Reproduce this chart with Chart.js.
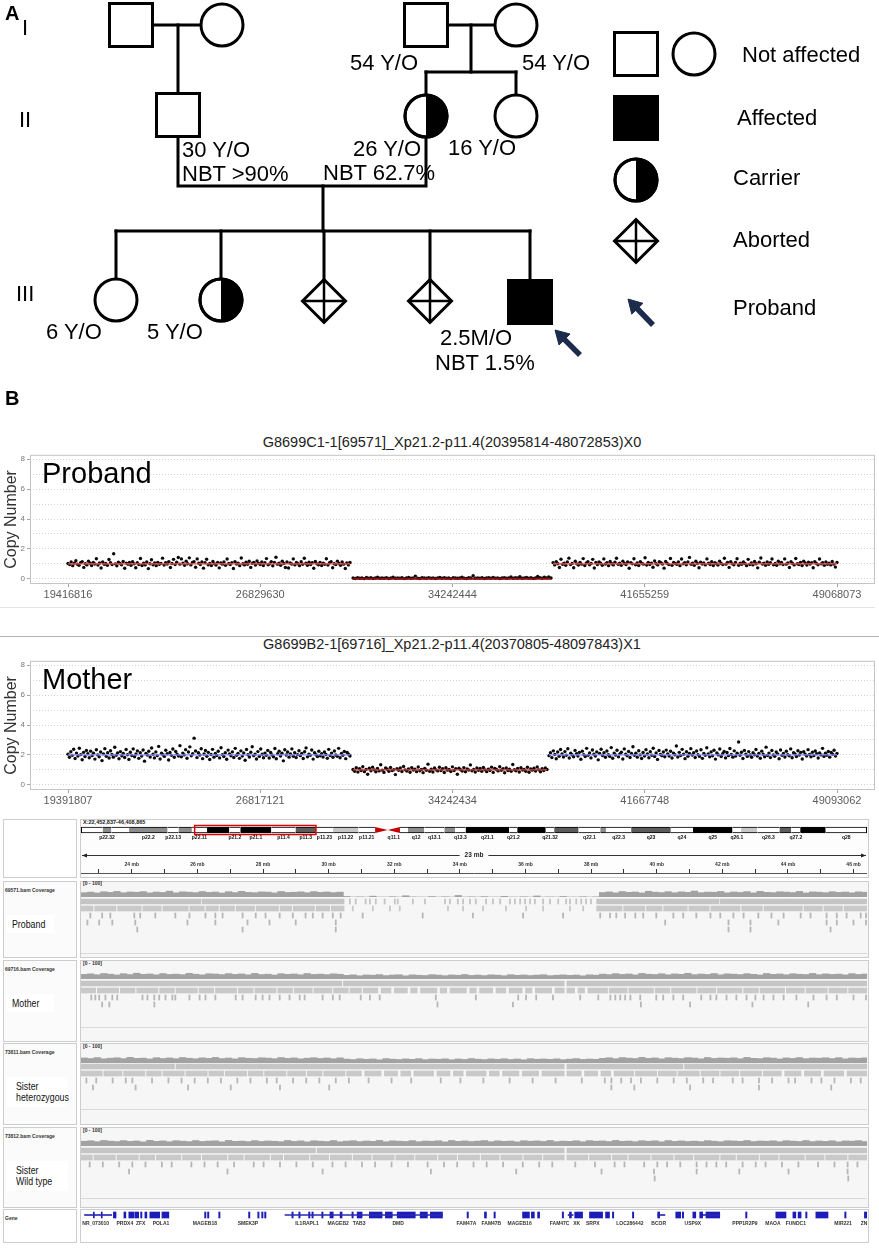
<!DOCTYPE html>
<html>
<head>
<meta charset="utf-8">
<script src="https://cdn.jsdelivr.net/npm/chart.js@4.4.1/dist/chart.umd.min.js"></script>
<style>
  html, body { margin: 0; padding: 0; background: #fff; }
  #page { position: relative; width: 879px; height: 1255px; overflow: hidden;
          font-family: "Liberation Sans", Arial, Helvetica, sans-serif; color: #000; }
  .t { position: absolute; white-space: nowrap; line-height: 1; }
  .box { position: absolute; box-sizing: border-box; border: 1px solid #cdcdcd; }
  canvas { position: absolute; }
</style>
</head>
<body>
<div id="page"></div>
<script>
/* ---------- Panel A: pedigree ---------- */
const generationLabels = ['I', 'II', 'III'];
const generationLabelY = [28, 120, 294];

// members in drawing units (same as the panel's pixel grid)
const pedMembers = [
  { id: 'I-1',   x: 131, y: 25,  sex: 'M', status: 'normal' },
  { id: 'I-2',   x: 222, y: 25,  sex: 'F', status: 'normal' },
  { id: 'I-3',   x: 426, y: 25,  sex: 'M', status: 'normal' },
  { id: 'I-4',   x: 516, y: 25,  sex: 'F', status: 'normal' },
  { id: 'II-1',  x: 178, y: 115, sex: 'M', status: 'normal' },
  { id: 'II-2',  x: 426, y: 116, sex: 'F', status: 'carrier' },
  { id: 'II-3',  x: 516, y: 116, sex: 'F', status: 'normal' },
  { id: 'III-1', x: 116, y: 300, sex: 'F', status: 'normal' },
  { id: 'III-2', x: 221, y: 300, sex: 'F', status: 'carrier' },
  { id: 'III-3', x: 324, y: 301, sex: 'U', status: 'aborted' },
  { id: 'III-4', x: 430, y: 301, sex: 'U', status: 'aborted' },
  { id: 'III-5', x: 530, y: 302, sex: 'M', status: 'affected' }
];
const pedFamilies = [
  { parents: ['I-1', 'I-2'], children: ['II-1'], barY: 115 },
  { parents: ['I-3', 'I-4'], children: ['II-2', 'II-3'], barY: 72 },
  { parents: ['II-1', 'II-2'], children: ['III-1', 'III-2', 'III-3', 'III-4', 'III-5'], coupleY: 186, barY: 231 }
];
const pedNotes = ['54 Y/O', '54 Y/O', '30 Y/O', 'NBT >90%', '26 Y/O', 'NBT 62.7%', '16 Y/O', '6 Y/O', '5 Y/O', '2.5M/O', 'NBT 1.5%'];
const pedNoteX = [350, 522, 182, 182, 353, 323, 448, 46, 147, 440, 435];
const pedNoteY = [63, 63, 150, 174, 149, 173, 148, 332, 332, 338, 363];

const legendSymbols = [
  { x: 636, y: 54,  sex: 'M', status: 'normal' },
  { x: 694, y: 54,  sex: 'F', status: 'normal' },
  { x: 636, y: 118, sex: 'M', status: 'affected' },
  { x: 636, y: 180, sex: 'F', status: 'carrier' },
  { x: 636, y: 241, sex: 'U', status: 'aborted' }
];
const legendLabels = ['Not affected', 'Affected', 'Carrier', 'Aborted', 'Proband'];
const legendLabelX = [742, 737, 733, 733, 733];
const legendLabelY = [55, 118, 178, 240, 308];
const probandArrows = [
  { tail: [580, 355], head: [555, 330] },
  { tail: [653, 325], head: [628, 299] }
];

/* ---------- Panel B: copy number plots ---------- */
const probandTitle = 'G8699C1-1[69571]_Xp21.2-p11.4(20395814-48072853)X0';
const probandTicks = [19416816, 26829630, 34242444, 41655259, 49068073];
const probandSegStart = [19416816, 30410000, 38120000];
const probandSegEnd = [30290000, 38040000, 49068073];
const probandSegCN = [1, 0, 1];
const probandLeft = [
  1.02,0.95,1.12,0.88,1.05,1.21,0.97,0.91,1.08,1.15,0.76,1.01,0.93,1.18,1.04,0.89,1.10,0.99,1.34,0.92,
  1.06,0.72,1.13,0.97,1.02,0.90,1.29,1.07,0.95,1.68,1.00,0.87,1.11,1.03,0.94,1.16,0.70,1.05,0.98,1.09,
  0.91,1.14,1.00,0.74,1.07,0.96,1.36,0.89,1.04,0.93,1.12,0.68,1.01,1.27,0.94,1.06,0.88,1.10,0.97,1.03,
  1.38,0.92,1.08,0.99,1.15,0.75,1.02,1.30,0.95,1.11,1.42,0.98,1.33,1.05,0.90,1.18,1.01,1.40,0.93,1.09,
  1.14,0.77,1.33,1.04,0.96,1.12,0.71,1.07,1.31,0.94,1.03,0.89,1.16,1.00,0.92,1.10,0.73,1.06,0.98,1.13,
  0.90,1.32,1.02,0.95,1.08,0.69,1.15,0.99,1.05,0.88,1.39,1.01,0.93,1.11,0.97,1.17,0.76,1.04,1.09,0.92,
  1.19,1.03,0.96,1.13,0.89,1.07,1.35,0.94,1.00,1.15,0.87,1.10,1.44,0.98,1.05,0.91,1.18,1.02,0.75,1.12,
  0.72,1.06,0.99,1.33,0.93,1.09,1.01,0.88,1.14,0.97,1.37,1.04,0.90,1.11,0.96,1.08,0.70,1.16,1.00,0.94,
  1.10,0.89,1.05,0.97,1.34,0.92,1.07,1.14,0.74,1.01,0.95,1.18,1.03,0.90,1.12,0.98,0.69,1.06,0.93,1.09
];
const probandDel = [
  0.05,0.02,0.08,0.03,0.06,0.01,0.09,0.04,0.07,0.02,0.05,0.10,0.03,0.06,0.04,0.08,0.02,0.05,0.11,0.03,
  0.06,0.04,0.07,0.01,0.05,0.09,0.03,0.06,0.18,0.04,0.02,0.07,0.05,0.03,0.08,0.04,0.06,0.02,0.05,0.09,
  0.03,0.07,0.04,0.06,0.01,0.08,0.05,0.03,0.06,0.10,0.04,0.02,0.07,0.05,0.20,0.03,0.06,0.04,0.08,0.02,
  0.05,0.07,0.03,0.09,0.04,0.06,0.02,0.05,0.08,0.03,0.06,0.12,0.04,0.07,0.05,0.14,0.03,0.06,0.09,0.04,
  0.07,0.02,0.05,0.16,0.08,0.04,0.10,0.06,0.12,0.05
];
const probandRight = [
  1.08,0.93,1.15,1.01,0.75,1.31,0.97,1.05,0.90,1.12,1.38,0.95,1.03,0.74,1.17,1.00,0.92,1.10,0.98,1.35,
  0.89,1.06,1.14,0.94,1.02,1.30,0.72,1.09,0.96,1.13,1.04,0.91,1.33,0.99,1.07,0.88,1.16,1.01,0.93,1.11,
  1.37,0.97,1.04,0.90,1.18,1.02,0.95,1.12,0.70,1.08,1.00,1.34,0.94,1.06,0.89,1.15,1.03,0.98,1.41,0.92,
  1.10,0.96,1.05,0.77,1.19,1.01,0.93,1.14,1.07,0.99,0.71,1.16,1.02,0.95,1.36,0.91,1.09,1.03,0.97,1.12,
  0.88,1.32,1.00,1.08,0.94,1.13,1.43,0.97,1.05,0.90,1.17,1.02,0.74,1.11,0.99,1.06,0.93,1.33,1.04,0.96,
  1.14,0.89,1.07,1.01,0.92,1.18,1.03,0.95,1.37,0.98,1.10,0.76,1.15,1.00,0.94,1.09,1.34,0.91,1.05,0.97,
  1.12,1.02,0.88,1.30,0.96,1.06,0.93,1.16,1.01,0.73,1.11,1.39,0.99,1.04,0.90,1.13,0.97,1.08,1.32,0.94,
  1.03,0.91,1.17,1.00,1.09,0.95,1.33,0.98,1.06,0.75,1.14,1.02,0.93,1.36,1.01,0.96,1.10,0.89,1.18,1.04,
  0.92,1.11,0.99,1.07,0.74,1.15,1.03,0.94,1.32,1.00,1.08,0.90,1.13,0.97,1.05,0.93,1.16,0.98,0.78,1.09
];

const motherTitle = 'G8699B2-1[69716]_Xp21.2-p11.4(20370805-48097843)X1';
const motherTicks = [19391807, 26817121, 34242434, 41667748, 49093062];
const motherSegStart = [19391807, 30400000, 37970000];
const motherSegEnd = [30283000, 37892000, 49093062];
const motherSegCN = [2, 1, 2];
const motherLeft = [
  2.05,1.84,2.21,1.97,2.38,1.76,2.12,1.93,2.45,2.02,1.68,2.17,1.89,2.30,2.08,1.81,2.25,1.95,2.11,1.72,
  2.34,2.00,1.87,2.19,1.62,2.07,2.42,1.91,2.15,1.79,2.28,2.03,1.85,2.51,1.98,2.13,1.74,2.22,1.94,2.09,
  1.83,2.36,2.01,1.70,2.18,1.96,2.40,1.88,2.06,2.27,1.77,2.14,1.92,2.33,1.58,2.10,1.99,2.24,1.86,2.46,
  2.04,1.80,2.20,1.95,2.57,1.73,2.11,2.01,1.90,2.31,2.08,1.66,2.16,1.97,2.39,1.84,2.23,2.05,1.93,2.62,
  1.87,2.12,2.00,2.35,1.78,2.19,2.54,1.94,2.08,3.12,2.26,1.82,2.14,1.99,2.41,1.75,2.06,2.29,1.91,2.17,
  1.69,2.03,2.37,1.85,2.10,1.96,2.24,1.80,2.48,2.02,1.89,2.15,1.71,2.32,2.07,1.94,2.20,1.83,2.44,1.98,
  2.09,1.77,2.27,1.92,2.13,1.64,2.36,2.01,1.86,2.18,2.55,1.95,2.05,1.73,2.22,1.90,2.39,2.04,1.81,2.12,
  1.97,2.30,1.79,2.16,2.00,1.88,2.43,1.74,2.08,2.25,1.93,2.11,1.60,2.34,1.99,2.19,1.85,2.06,2.40,1.91,
  2.14,1.82,2.02,2.28,1.95,2.10,1.76,2.21,2.47,1.87,2.05,1.98,2.33,1.72,2.15,2.01,1.89,2.24,1.94,2.08,
  1.86,2.19,2.03,1.78,2.37,1.96,2.12,1.84,2.26,2.00,1.91,2.44,1.81,2.09,1.97,2.23,1.75,2.16,2.04,1.93
];
const motherDel = [
  1.02,0.91,1.14,0.85,1.07,0.96,1.21,0.88,1.03,0.70,1.11,0.94,1.18,1.00,0.87,1.09,0.93,1.34,0.98,0.83,
  1.12,1.04,0.90,1.16,0.95,1.01,0.68,1.08,0.97,1.13,0.89,1.22,1.00,0.92,1.06,0.84,1.15,0.99,1.05,0.88,
  1.19,0.94,1.03,0.81,1.10,0.97,1.38,0.90,1.04,0.86,1.12,1.00,0.93,1.17,0.95,1.07,0.82,1.14,0.98,1.02,
  0.89,1.20,0.96,1.08,0.70,1.11,1.01,0.92,1.15,0.87,1.06,0.99,1.33,0.94,1.03,0.85,1.13,0.97,1.09,0.91,
  1.16,1.00,0.88,1.05,0.95,1.18,0.83,1.10,1.02,0.93,1.21,0.97,1.07,0.80,1.12,0.96,1.04,0.90,1.36,1.01,
  0.94,1.09,0.86,1.14,0.99,1.03,0.91,1.17,0.84,1.06,0.98,1.11,0.92,1.19,1.00,0.87,1.08,0.95,1.13,1.02
];
const motherRight = [
  1.95,2.14,1.82,2.27,2.03,1.74,2.19,1.91,2.36,2.06,1.86,2.22,1.98,2.41,1.79,2.11,2.00,1.88,2.30,2.08,
  1.93,2.17,1.71,2.25,2.02,1.89,2.44,1.97,2.13,1.80,2.33,2.05,1.92,2.20,1.67,2.10,2.38,1.96,2.15,1.84,
  2.26,2.01,1.90,2.49,1.78,2.12,1.99,2.31,1.87,2.07,2.18,1.73,2.40,2.04,1.94,2.23,1.83,2.09,2.55,1.97,
  2.11,1.85,2.28,2.00,1.76,2.16,1.92,2.35,2.06,1.81,2.21,1.98,2.45,1.89,2.13,1.70,2.29,2.03,1.95,2.19,
  1.88,2.32,2.07,1.93,2.24,1.79,2.12,2.01,2.60,1.86,2.17,1.96,2.37,2.04,1.75,2.21,1.91,2.09,2.42,1.99,
  2.15,1.83,2.26,2.02,1.90,2.34,1.77,2.10,1.97,2.48,2.06,1.87,2.20,1.94,2.31,1.72,2.13,2.00,2.39,1.89,
  2.08,2.23,1.80,2.16,1.95,2.43,2.03,1.85,2.27,1.92,2.11,2.86,1.98,2.18,1.76,2.30,2.05,1.90,2.22,1.99,
  1.84,2.14,2.01,2.36,1.93,2.09,1.78,2.25,2.04,1.88,2.52,1.96,2.12,1.82,2.29,2.00,1.91,2.19,2.07,1.74,
  2.33,1.97,2.10,1.86,2.24,2.02,1.94,2.40,1.81,2.15,2.06,1.89,2.28,1.99,2.17,1.73,2.21,2.05,1.92,2.35,
  2.03,1.87,2.18,1.95,2.26,2.08,1.79,2.13,2.00,2.44,1.90,2.11,1.98,2.23,1.85,2.16,2.04,2.31,1.93,2.09
];
const cnTicks = [0, 1, 2, 3, 4, 5, 6, 7, 8];

/* ---------- IGV view ---------- */
const locusText = 'X:22,452,837-46,408,865';
const viewStart = 22.452837, viewEnd = 46.408865;   // Mb

const bandNames = ['p22.33','p22.32','p22.31','p22.2','p22.13','p22.12','p22.11','p21.3','p21.2','p21.1',
  'p11.4','p11.3','p11.23','p11.22','p11.21','p11.1','q11.1','q11.2','q12','q13.1','q13.2','q13.3',
  'q21.1','q21.2','q21.31','q21.32','q21.33','q22.1','q22.2','q22.3','q23','q24','q25','q26.1','q26.2',
  'q26.3','q27.1','q27.2','q27.3','q28'];
const bandStart = [0, 4.3, 6.0, 9.5, 17.1, 19.3, 21.9, 24.9, 29.3, 31.5, 37.6, 42.4, 46.4, 49.8, 54.8,
  58.1, 60.6, 63.0, 64.6, 67.8, 71.8, 73.9, 76.0, 84.6, 86.2, 91.8, 93.5, 98.3, 102.6, 103.7, 108.7,
  116.5, 120.9, 128.7, 130.4, 133.6, 138.0, 140.3, 142.1, 147.1];
const chromEnd = 155.27;
const bandStain = ['gneg','gpos50','gneg','gpos50','gneg','gpos50','gneg','gpos100','gneg','gpos100',
  'gneg','gpos75','gneg','gpos25','gneg','acen','acen','gneg','gpos50','gneg','gpos50','gneg',
  'gpos100','gneg','gpos100','gneg','gpos75','gneg','gpos50','gneg','gpos75','gneg','gpos100','gneg',
  'gpos25','gneg','gpos75','gneg','gpos100','gneg'];
const bandShown = ['p22.32','p22.2','p22.13','p22.11','p21.2','p21.1','p11.4','p11.3','p11.23','p11.22',
  'p11.21','q11.1','q12','q13.1','q13.3','q21.1','q21.2','q21.32','q22.1','q22.3','q23','q24','q25',
  'q26.1','q26.3','q27.2','q28'];
const rulerTicks = [23,24,25,26,27,28,29,30,31,32,33,34,35,36,37,38,39,40,41,42,43,44,45,46];

const covStart = 22.45, covBin = 0.2;   // coverage bins (Mb)
const probandCov = [
  62,70,58,75,66,80,61,72,68,77,59,71,65,83,60,74,69,63,78,66,71,57,76,64,81,67,62,73,70,59,79,65,68,74,61,77,66,72,63,70,
  8,0,3,0,12,0,0,5,0,18,2,0,0,7,0,4,0,22,0,3,0,6,0,0,10,1,0,4,0,15,0,2,0,8,0,0,5,0,3,
  64,73,60,78,67,71,58,82,69,63,76,61,74,66,85,62,70,68,79,60,72,65,77,59,81,67,63,75,70,64,80,58,73,69,62,76,66,71,60,74,68
];
const motherCov = [
  66,74,61,79,69,58,76,64,83,67,72,60,78,65,70,62,81,68,59,75,71,63,77,66,73,60,80,64,69,57,76,67,72,61,78,65,70,63,74,68,
  52,60,47,58,55,63,49,57,61,46,59,54,50,62,56,48,58,53,64,51,57,49,60,55,47,62,53,58,50,56,61,48,54,59,52,57,46,60,55,
  70,63,77,66,72,59,80,68,64,75,61,73,67,82,62,71,65,78,60,74,69,63,76,67,58,79,66,72,61,75,68,64,80,62,73,66,70,59,77,65,71
];
const hetCov = [
  72,64,78,60,69,75,63,81,67,70,58,76,65,73,62,79,68,61,74,66,80,63,71,59,77,68,64,75,70,62,78,66,73,60,69,76,65,72,61,74,
  56,49,61,53,58,46,63,55,50,59,52,62,48,57,54,60,47,58,51,64,55,49,59,53,61,50,57,46,62,54,58,52,60,48,56,63,51,57,53,
  67,75,62,78,70,64,81,66,73,59,76,69,63,77,71,60,79,65,72,68,74,61,80,67,63,76,70,58,73,66,78,62,71,69,75,64,77,60,72,68,74
];
const wtCov = [
  68,75,62,79,70,64,77,66,72,59,81,67,73,61,76,69,63,78,65,71,74,60,80,67,70,63,77,65,72,68,62,79,66,73,59,75,69,64,78,61,
  70,76,63,72,67,80,61,74,69,65,77,62,71,68,75,59,79,66,73,64,70,78,62,74,67,71,60,76,68,73,65,79,63,70,66,75,61,77,69,72,
  64,80,67,71,62,76,68,74,60,78,66,73,65,70,63,77,69,61,75,72,67,79,64,71,68,74,62,76,70,65,78,63,72,66,75,60,73,69,77,64
];

// read rows: solid bands [start, end] and single-read ticks (Mb)
const probandBand1 = [[22.45,26.10],[26.14,30.47],[38.17,41.90],[41.94,46.41]];
const probandBand2 = [[22.45,22.82],[22.87,23.52],[23.57,24.29],[24.34,24.90],[24.95,25.72],[25.77,26.21],
  [26.26,26.64],[26.69,27.13],[27.18,27.74],[27.79,28.47],[28.52,28.87],[28.92,29.57],[29.62,30.03],[30.08,30.47],
  [38.17,38.94],[38.99,39.64],[39.69,40.16],[40.21,40.93],[40.98,41.60],[41.65,42.54],[42.59,43.22],[43.27,44.44],
  [44.49,45.05],[45.10,45.66],[45.71,46.41]];
const probandTicks1 = [30.63,30.81,31.11,31.24,31.42,31.69,32.00,32.09,32.55,32.92,33.53,33.68,33.92,34.08,34.29,
  34.47,34.78,34.99,35.21,35.51,35.66,35.82,35.97,36.12,36.27,36.52,36.73,36.98,37.22,37.34,37.53,37.68,37.83,37.98];
const probandTicks2 = [30.72,31.33,31.85,32.15,33.62,34.08,34.69,35.39,36.00,36.52,37.34,37.74];
const probandTicks3 = [22.72,23.08,23.33,24.06,24.24,24.70,25.31,25.74,26.23,26.53,26.75,27.36,27.76,28.06,28.49,
  28.89,29.28,29.50,29.80,30.11,30.35,31.02,32.85,34.38,35.91,37.13,38.26,38.56,38.75,39.02,39.33,39.57,39.97,40.49,
  40.79,41.19,41.62,41.92,42.32,42.63,43.08,43.48,43.85,44.37,44.67,45.16,45.47,45.77,46.20,46.36];
const probandTicks4 = [22.63,22.99,23.39,24.09,25.68,26.53,27.51,28.18,28.98,30.20,40.24,42.17,42.84,43.69,45.16,45.47,45.98,46.36];
const probandTicks5 = [24.15,27.36,30.20,42.17,42.84,45.28];

const motherBand1 = [[22.45,30.40],[30.45,37.18],[37.26,46.41]];
const motherBand2 = [[22.45,22.90],[22.95,23.60],[23.65,24.10],[24.15,24.80],[24.85,25.30],[25.35,26.00],[26.05,26.50],
  [26.55,27.20],[27.25,27.70],[27.75,28.40],[28.45,28.90],[28.95,29.50],[29.55,30.10],[30.15,30.60],[30.65,31.00],
  [31.05,31.50],[31.60,31.90],[32.00,32.40],[32.50,32.70],[32.80,33.30],[33.40,33.60],[33.70,34.20],[34.30,34.50],
  [34.60,35.00],[35.10,35.40],[35.50,35.90],[36.00,36.20],[36.30,36.80],[36.90,37.18],[37.26,37.50],[37.60,37.80],
  [37.90,38.50],[38.55,39.10],[39.15,39.90],[39.95,40.40],[40.45,41.20],[41.25,41.80],[41.85,42.60],[42.65,43.10],
  [43.15,43.90],[43.95,44.50],[44.55,45.20],[45.25,45.80],[45.85,46.41]];
const motherTicks3 = [22.75,22.87,22.99,23.18,23.39,23.54,24.31,24.46,24.67,24.82,25.01,25.22,25.31,25.74,26.05,
  26.23,26.53,27.15,27.36,27.76,27.97,28.18,28.49,28.79,29.10,29.25,29.80,30.11,30.32,30.96,31.24,31.54,33.25,34.47,
  35.76,36.00,36.31,36.82,37.65,38.20,38.57,38.72,38.87,39.02,39.18,39.48,39.97,40.18,40.49,40.79,41.34,41.62,41.80,
  42.11,42.41,42.72,42.99,43.24,43.54,43.85,44.24,44.76,45.16,45.47,45.98,46.36];
const motherTicks4 = [23.08,23.30,24.67,33.30,35.60,39.50,41.00,42.90,44.60];

const hetBand1 = [[22.45,25.30],[25.35,37.18],[37.26,40.80],[40.85,46.41]];
const hetBand2 = [[22.45,23.10],[23.15,23.70],[23.75,24.40],[24.45,24.90],[24.95,25.60],[25.65,26.30],[26.35,26.80],
  [26.85,27.50],[27.55,28.00],[28.05,28.70],[28.75,29.30],[29.35,29.80],[29.85,30.50],[30.55,31.00],[31.10,31.60],
  [31.70,32.10],[32.20,32.50],[32.60,33.20],[33.30,33.70],[33.80,34.10],[34.20,34.80],[34.90,35.20],[35.30,35.80],
  [35.90,36.40],[36.50,37.18],[37.26,37.70],[37.80,38.20],[38.30,38.60],[38.70,39.30],[39.35,40.00],[40.05,40.60],
  [40.65,41.30],[41.35,41.90],[41.95,42.50],[42.55,43.20],[43.25,43.80],[43.90,44.40],[44.50,45.00],[45.10,45.70],
  [45.80,46.41]];
const hetTicks3 = [22.60,22.90,23.40,23.80,24.00,24.60,25.10,25.50,25.90,26.30,26.70,27.20,27.60,28.10,28.40,28.90,
  29.30,29.70,30.20,30.60,31.20,31.90,32.50,33.40,34.00,34.70,35.50,36.20,36.90,37.70,38.40,38.60,38.90,39.20,39.50,
  40.00,40.50,40.90,41.40,41.70,42.30,42.60,43.10,43.50,44.00,44.20,44.70,45.00,45.40,45.90,46.20];
const hetTicks4 = [22.80,24.10,25.70,27.00,28.50,30.00,38.60,39.30,41.00,43.10,45.30];

const wtBand1 = [[22.45,29.60],[29.65,37.18],[37.26,46.41]];
const wtBand2 = [[22.45,22.80],[22.85,23.50],[23.55,24.20],[24.25,24.70],[24.75,25.50],[25.55,26.10],[26.15,26.90],
  [26.95,27.40],[27.45,28.20],[28.25,28.60],[28.65,29.40],[29.45,30.00],[30.05,30.70],[30.75,31.30],[31.35,32.00],
  [32.05,32.60],[32.65,33.30],[33.35,33.90],[33.95,34.60],[34.65,35.20],[35.25,35.90],[35.95,36.50],[36.55,37.18],
  [37.26,37.90],[37.95,38.60],[38.65,39.10],[39.15,39.80],[39.85,40.50],[40.55,41.10],[41.15,41.90],[41.95,42.40],
  [42.45,43.10],[43.15,43.70],[43.75,44.50],[44.55,45.10],[45.15,45.80],[45.85,46.41]];
const wtTicks3 = [22.70,23.10,23.60,24.00,24.40,24.90,25.20,25.80,26.20,26.60,27.10,27.70,28.00,28.50,29.00,29.50,
  30.10,30.50,31.00,31.40,31.90,32.40,33.00,33.50,33.90,34.40,34.80,35.30,35.90,36.40,36.80,37.50,38.10,38.70,39.00,
  39.60,40.00,40.30,40.70,41.20,41.50,41.80,42.10,42.60,43.00,43.30,43.80,44.30,44.90,45.40,45.80,46.10];
const wtTicks4 = [23.90,26.90,29.80,33.10,35.70,38.30,39.90,41.20,42.50,44.00,45.80];
const wtTicks5 = [39.92,45.82];

const trackNames = ['69571.bam Coverage', '69716.bam Coverage', '73811.bam Coverage', '73812.bam Coverage'];
const trackLabels = [['Proband'], ['Mother'], ['Sister', 'heterozygous'], ['Sister', 'Wild type']];

// gene track (Mb)
const geneIntrons = [[22.56,23.39],[28.67,33.47],[37.30,37.45],[40.03,40.25],[41.40,41.92]];
const geneExons = [[22.83,22.86],[23.07,23.10],[23.44,23.52],[23.76,23.82],[23.91,24.06],[24.09,24.21],[24.27,24.31],
  [24.40,24.46],[24.55,24.85],[24.92,25.13],[26.22,26.26],[26.31,26.35],[26.65,26.69],[27.56,27.60],[27.84,27.88],
  [27.96,28.00],[28.05,28.09],[28.88,28.92],[29.09,29.13],[29.39,29.43],[29.49,29.53],[29.79,29.83],[30.04,30.14],
  [30.35,30.41],[30.71,30.75],[30.87,31.02],[31.24,31.63],[31.73,31.94],[32.09,32.64],[32.79,33.01],[33.10,33.47],
  [34.22,34.26],[34.75,34.81],[35.04,35.08],[35.91,36.12],[36.18,36.27],[36.37,36.43],[37.12,37.16],[37.34,37.40],
  [37.50,37.74],[37.95,38.35],[38.44,38.56],[38.65,38.69],[39.26,39.30],[40.03,40.09],[40.58,40.73],[40.78,40.82],
  [41.10,41.19],[41.31,41.40],[41.50,41.92],[42.71,42.75],[43.63,43.94],[44.15,44.24],[44.31,44.40],[44.54,44.58],
  [44.85,45.22],[45.73,45.77],[46.33,46.41]];
const geneNames = ['NR_073010','PRDX4','ZFX','POLA1','MAGEB18','SMEK3P','IL1RAPL1','MAGEB2','TAB3','DMD','FAM47A',
  'FAM47B','MAGEB16','FAM47C','XK','SRPX','LOC286442','BCOR','USP9X','PPP1R2P9','MAOA','FUNDC1','MIR221','ZNF81'];
const geneLabelPos = [22.90,23.79,24.27,24.89,26.23,27.54,29.34,30.29,30.93,32.12,34.20,34.96,35.82,37.04,37.56,
  38.05,39.18,40.06,41.10,42.69,43.54,44.24,45.68,46.45];

/* ---------- helpers ---------- */
Chart.defaults.font.family = "'Liberation Sans', Arial, Helvetica, sans-serif";
Chart.defaults.animation = false;
Chart.defaults.responsive = false;
Chart.defaults.events = [];
Chart.defaults.layout.autoPadding = false;
Chart.defaults.plugins.legend.display = false;
Chart.defaults.plugins.tooltip.enabled = false;

const page = document.getElementById('page');

function addCanvas(left, top, w, h) {
  const c = document.createElement('canvas');
  c.width = w; c.height = h;
  c.style.left = left + 'px'; c.style.top = top + 'px';
  c.style.width = w + 'px'; c.style.height = h + 'px';
  page.appendChild(c);
  return c;
}
function addText(str, left, cy, size, opts = {}) {
  const d = document.createElement('div');
  d.className = 't';
  d.textContent = str;
  d.style.left = left + 'px';
  d.style.top = (cy - size * 0.49) + 'px';
  d.style.fontSize = size + 'px';
  if (opts.bold) d.style.fontWeight = 'bold';
  if (opts.color) d.style.color = opts.color;
  if (opts.center) d.style.transform = 'translateX(-50%)';
  if (opts.sx) { d.style.transform = 'scaleX(' + opts.sx + ')'; d.style.transformOrigin = 'left center'; }
  page.appendChild(d);
  return d;
}
function addBox(left, top, w, h, bg, border) {
  const d = document.createElement('div');
  d.className = 'box';
  d.style.cssText += `left:${left}px;top:${top}px;width:${w}px;height:${h}px;background:${bg};`;
  if (border === false) d.style.border = 'none';
  page.appendChild(d);
  return d;
}

/* ---------- pedigree chart ---------- */
const byId = Object.fromEntries(pedMembers.map(m => [m.id, m]));
const pedLines = [];
pedFamilies.forEach(f => {
  const [a, b] = f.parents.map(id => byId[id]);
  const kids = f.children.map(id => byId[id]);
  const cx = (kids[0].x + kids[kids.length - 1].x) / 2;
  if (f.coupleY) {
    pedLines.push([{ x: a.x, y: a.y }, { x: a.x, y: f.coupleY }, { x: b.x, y: f.coupleY }, { x: b.x, y: b.y }]);
    pedLines.push([{ x: cx, y: f.coupleY }, { x: cx, y: f.barY }]);
  } else {
    pedLines.push([{ x: a.x, y: a.y }, { x: b.x, y: b.y }]);
    pedLines.push([{ x: cx, y: a.y }, { x: cx, y: f.barY }]);
  }
  if (kids.length > 1) pedLines.push([{ x: kids[0].x, y: f.barY }, { x: kids[kids.length - 1].x, y: f.barY }]);
  kids.forEach(k => pedLines.push([{ x: k.x, y: f.barY }, { x: k.x, y: k.y }]));
});

const allSymbols = pedMembers.concat(legendSymbols);
const pick = test => allSymbols.filter(test).map(m => ({ x: m.x, y: m.y }));
const symbolBase = { type: 'scatter', pointBorderColor: '#000', pointBorderWidth: 3, order: 5 };

const arrowShafts = [], arrowHeads = [], arrowRot = [];
const headR = 9;
probandArrows.forEach(a => {
  const dx = a.head[0] - a.tail[0], dy = a.head[1] - a.tail[1];
  const len = Math.hypot(dx, dy), ux = dx / len, uy = dy / len;
  const c = { x: a.head[0] - ux * headR, y: a.head[1] - uy * headR };
  arrowShafts.push([{ x: a.tail[0], y: a.tail[1] }, c]);
  arrowHeads.push(c);
  arrowRot.push(Math.atan2(ux, -uy) * 180 / Math.PI);
});

const halfFill = {
  id: 'halfFill',
  afterDatasetsDraw(chart) {
    const ctx = chart.ctx;
    chart.data.datasets.forEach((ds, i) => {
      if (!ds.halfFill) return;
      chart.getDatasetMeta(i).data.forEach(pt => {
        const r = ds.pointRadius;
        ctx.save();
        ctx.beginPath();
        ctx.arc(pt.x, pt.y, r, -Math.PI / 2, Math.PI / 2);
        ctx.closePath();
        ctx.fillStyle = '#000';
        ctx.fill();
        ctx.lineWidth = 3;
        ctx.strokeStyle = '#000';
        ctx.beginPath();
        ctx.arc(pt.x, pt.y, r, 0, Math.PI * 2);
        ctx.stroke();
        ctx.restore();
      });
    });
  }
};

new Chart(addCanvas(0, 0, 879, 385), {
  type: 'scatter',
  data: {
    datasets: [
      ...pedLines.map(pts => ({
        type: 'line', data: pts, borderColor: '#000', borderWidth: 3, pointRadius: 0,
        borderCapStyle: 'square', borderJoinStyle: 'miter', tension: 0, fill: false, order: 10
      })),
      Object.assign({}, symbolBase, { data: pick(m => m.sex === 'M' && m.status !== 'affected'),
        pointStyle: 'rect', pointRadius: 30.4, pointBackgroundColor: '#fff' }),
      Object.assign({}, symbolBase, { data: pick(m => m.status === 'affected'),
        pointStyle: 'rect', pointRadius: 30.4, pointBackgroundColor: '#000' }),
      Object.assign({}, symbolBase, { data: pick(m => m.sex === 'F' && m.status === 'normal'),
        pointStyle: 'circle', pointRadius: 21, pointBackgroundColor: '#fff' }),
      Object.assign({}, symbolBase, { data: pick(m => m.status === 'carrier'), halfFill: true,
        pointStyle: 'circle', pointRadius: 21, pointBackgroundColor: '#fff' }),
      Object.assign({}, symbolBase, { data: pick(m => m.status === 'aborted'),
        pointStyle: 'rectRot', pointRadius: 21.5, pointBackgroundColor: '#fff' }),
      Object.assign({}, symbolBase, { data: pick(m => m.status === 'aborted'), order: 4,
        pointStyle: 'cross', pointRadius: 21.5, pointBorderWidth: 2.5, pointBackgroundColor: 'rgba(0,0,0,0)' }),
      ...arrowShafts.map(pts => ({
        type: 'line', data: pts, borderColor: '#1d2b4c', borderWidth: 5.5, pointRadius: 0, order: 3
      })),
      { type: 'scatter', data: arrowHeads, pointStyle: 'triangle', pointRadius: headR, pointRotation: arrowRot,
        pointBackgroundColor: '#1d2b4c', pointBorderColor: '#1d2b4c', pointBorderWidth: 1, order: 2 }
    ]
  },
  options: {
    layout: { padding: 0, autoPadding: false },
    scales: {
      x: { type: 'linear', min: 0, max: 879, display: false },
      y: { type: 'linear', min: 0, max: 385, reverse: true, display: false }
    }
  },
  plugins: [halfFill]
});

addText('A', 5, 13, 20, { bold: true });
generationLabels.forEach((g, i) => addText(g, g.length === 1 ? 22 : (g.length === 2 ? 19 : 16), generationLabelY[i], 22));
pedNotes.forEach((s, i) => addText(s, pedNoteX[i], pedNoteY[i], 22));
legendLabels.forEach((s, i) => addText(s, legendLabelX[i], legendLabelY[i], 22));

/* ---------- copy number charts ---------- */
const frame = {
  id: 'frame',
  afterDatasetsDraw(chart) {
    const { ctx, chartArea: a } = chart;
    ctx.save();
    ctx.strokeStyle = '#c4c4c4';
    ctx.lineWidth = 1;
    ctx.strokeRect(a.left + 0.5, a.top + 0.5, a.right - a.left - 1, a.bottom - a.top - 1);
    ctx.restore();
  }
};

function cnChart(canvas, ticks, segStart, segEnd, segCN, segValues, segColors) {
  const pts = [];
  segValues.forEach((vals, s) => {
    const step = (segEnd[s] - segStart[s]) / (vals.length - 1);
    vals.forEach((v, i) => pts.push({ x: segStart[s] + i * step, y: v }));
  });
  const pad = (ticks[ticks.length - 1] - ticks[0]) * 38 / 769;
  const segLines = segStart.map((s, i) => ({
    type: 'line', data: [{ x: s, y: segCN[i] }, { x: segEnd[i], y: segCN[i] }],
    borderColor: segColors[i], borderWidth: segCN[i] === 0 ? 1.8 : 1.1, pointRadius: 0, order: 0
  }));
  return new Chart(canvas, {
    type: 'scatter',
    data: {
      datasets: [{ data: pts, pointRadius: 1.7, pointBackgroundColor: '#0a0a0a', pointBorderWidth: 0, order: 1 },
        ...segLines]
    },
    options: {
      layout: { padding: { top: 2, right: 4, left: 0, bottom: 0 }, autoPadding: false },
      scales: {
        x: {
          type: 'linear', min: ticks[0] - pad, max: ticks[ticks.length - 1] + pad, offset: false,
          afterBuildTicks: s => { s.ticks = ticks.map(v => ({ value: v })); },
          afterFit: s => { s.height = 16; },
          ticks: { color: '#5c5c5c', font: { size: 11 }, padding: 1, maxRotation: 0, autoSkip: false,
                   callback: v => String(v) },
          grid: { drawOnChartArea: false, tickLength: 3, tickColor: '#9aa0d0' },
          border: { display: false }
        },
        y: {
          type: 'linear', min: -0.35, max: 8.3,
          afterBuildTicks: s => { s.ticks = cnTicks.map(v => ({ value: v })); },
          afterFit: s => { s.width = 30; },
          title: { display: true, text: 'Copy Number', font: { size: 16 }, color: '#333', padding: { top: 2, bottom: 0 } },
          ticks: { color: '#777', font: { size: 8 }, padding: 2, callback: v => (v % 2 === 0 ? v : '') },
          grid: { color: '#d2d2d2', lineWidth: 1, tickLength: 3,
                  tickColor: c => (c.tick && c.tick.value % 2 === 0 ? '#9aa0d0' : 'rgba(0,0,0,0)') },
          border: { display: false, dash: [1, 2] }
        }
      }
    },
    plugins: [frame]
  });
}

addText('B', 5, 398, 20, { bold: true });
addText(probandTitle, 452, 442, 14.5, { center: true, color: '#222' });
cnChart(addCanvas(0, 448, 879, 152), probandTicks, probandSegStart, probandSegEnd, probandSegCN,
  [probandLeft, probandDel, probandRight], ['#ff5252', '#8b0d0d', '#ff5252']);
addText('Proband', 42, 473, 29);
addBox(0, 607, 875, 1, '#e4e4e4', false);
addBox(0, 636, 879, 1, '#b4b4b4', false);

addText(motherTitle, 452, 644, 14.5, { center: true, color: '#222' });
cnChart(addCanvas(0, 654, 879, 152), motherTicks, motherSegStart, motherSegEnd, motherSegCN,
  [motherLeft, motherDel, motherRight], ['#8d8dff', '#e23b3b', '#8d8dff']);
addText('Mother', 42, 679, 29);

/* ---------- IGV panel ---------- */
const IGV_L = 81, IGV_W = 786;

// header
addBox(3, 819, 74, 59, '#fff');
addBox(80, 819, 789, 59, '#fdfdfd');
addText(locusText, 83, 823, 5.5, { bold: true, color: '#222' });

const stainColor = { gneg: '#ffffff', gpos25: '#c6c6c6', gpos50: '#8c8c8c', gpos75: '#5c5c5c', gpos100: '#000000' };
const bandEnd = bandStart.slice(1).concat([chromEnd]);
const solidIdx = bandStart.map((s, i) => i).filter(i => bandStain[i] !== 'acen');

const ideogramDecor = {
  id: 'ideogramDecor',
  afterDatasetsDraw(chart) {
    const { ctx, scales: { x } } = chart;
    const bar = chart.getDatasetMeta(0).data[0];
    const h = bar.height, top = bar.y - h / 2, bot = bar.y + h / 2, mid = bar.y;
    ctx.save();
    // centromere
    ctx.fillStyle = '#c40000';
    bandStart.forEach((s, i) => {
      if (bandStain[i] !== 'acen') return;
      const x0 = x.getPixelForValue(s), x1 = x.getPixelForValue(bandEnd[i]);
      ctx.beginPath();
      if (bandNames[i][0] === 'p') { ctx.moveTo(x0, top); ctx.lineTo(x0, bot); ctx.lineTo(x1, mid); }
      else { ctx.moveTo(x1, top); ctx.lineTo(x1, bot); ctx.lineTo(x0, mid); }
      ctx.closePath();
      ctx.fill();
    });
    // chromosome ends
    ctx.strokeStyle = '#000';
    ctx.lineWidth = 1;
    [0, chromEnd].forEach(v => {
      const px = Math.round(x.getPixelForValue(v)) + (v === 0 ? 0.5 : -0.5);
      ctx.beginPath(); ctx.moveTo(px, top); ctx.lineTo(px, bot); ctx.stroke();
    });
    // current view
    ctx.strokeStyle = '#e00000';
    ctx.lineWidth = 1.5;
    const v0 = x.getPixelForValue(viewStart), v1 = x.getPixelForValue(viewEnd);
    ctx.strokeRect(v0, top - 1.5, v1 - v0, h + 3);
    // band labels
    ctx.fillStyle = '#111';
    ctx.font = "bold 5px 'Liberation Sans', Arial, sans-serif";
    ctx.textAlign = 'center';
    ctx.textBaseline = 'middle';
    bandStart.forEach((s, i) => {
      if (!bandShown.includes(bandNames[i])) return;
      ctx.fillText(bandNames[i], x.getPixelForValue((s + bandEnd[i]) / 2), bot + 4.5);
    });
    ctx.restore();
  }
};

new Chart(addCanvas(IGV_L, 822, IGV_W, 18), {
  type: 'bar',
  data: {
    labels: ['X'],
    datasets: [{
      data: solidIdx.map(i => ({ x: [bandStart[i], bandEnd[i]], y: 'X' })),
      backgroundColor: solidIdx.map(i => stainColor[bandStain[i]]),
      borderColor: '#000', borderWidth: { top: 1, bottom: 1, left: 0, right: 0 }, borderSkipped: false,
      barThickness: 6, grouped: false
    }]
  },
  options: {
    indexAxis: 'y',
    layout: { padding: { bottom: 2 } },
    scales: { x: { type: 'linear', min: 0, max: chromEnd, display: false }, y: { type: 'category', display: false } }
  },
  plugins: [ideogramDecor]
});

// ruler
const rulerSpan = {
  id: 'rulerSpan',
  afterDraw(chart) {
    const { ctx, scales: { x } } = chart;
    const y = 6.5, l = x.left + 1, r = x.right - 1, cx = (l + r) / 2;
    const label = Math.floor(viewEnd - viewStart) + ' mb';
    ctx.save();
    ctx.font = "bold 6.5px 'Liberation Sans', Arial, sans-serif";
    const w = ctx.measureText(label).width;
    ctx.strokeStyle = '#333'; ctx.fillStyle = '#222'; ctx.lineWidth = 1;
    ctx.beginPath();
    ctx.moveTo(l, y); ctx.lineTo(cx - w / 2 - 5, y);
    ctx.moveTo(cx + w / 2 + 5, y); ctx.lineTo(r, y);
    ctx.stroke();
    ctx.beginPath(); ctx.moveTo(l, y); ctx.lineTo(l + 5, y - 2); ctx.lineTo(l + 5, y + 2); ctx.closePath(); ctx.fill();
    ctx.beginPath(); ctx.moveTo(r, y); ctx.lineTo(r - 5, y - 2); ctx.lineTo(r - 5, y + 2); ctx.closePath(); ctx.fill();
    ctx.textAlign = 'center'; ctx.textBaseline = 'middle';
    ctx.fillText(label, cx, y);
    ctx.restore();
  }
};
new Chart(addCanvas(IGV_L, 849, IGV_W, 25), {
  type: 'scatter',
  data: { datasets: [{ data: [] }] },
  options: {
    layout: { padding: { top: 9, bottom: 0 } },
    scales: {
      x: {
        type: 'linear', position: 'top', min: viewStart, max: viewEnd,
        afterBuildTicks: s => { s.ticks = rulerTicks.map(v => ({ value: v })); },
        afterFit: s => { s.height = 15; },
        ticks: { autoSkip: false, maxRotation: 0, padding: 1, color: '#333', font: { size: 5, weight: 'bold' },
                 callback: v => (v % 2 === 0 ? v + ' mb' : '') },
        grid: { drawOnChartArea: false, tickLength: 4, tickColor: '#333', tickWidth: 1 },
        border: { display: true, color: '#555', width: 1 }
      },
      y: { display: false }
    }
  },
  plugins: [rulerSpan]
});

// coverage + read tracks
const trackTop = [881, 960, 1043, 1127];
const trackBottom = [958, 1042, 1125, 1208];
const trackSep = [953, 1027, 1109, 1198];
const covOffset = [9, 12, 13, 12];
const rowsOffset = [17, 20, 20, 20];
const trackCov = [probandCov, motherCov, hetCov, wtCov];
const trackBands = [[probandBand1, probandBand2], [motherBand1, motherBand2], [hetBand1, hetBand2], [wtBand1, wtBand2]];
const trackTicks = [
  [probandTicks1, probandTicks2, probandTicks3, probandTicks4, probandTicks5],
  [[], [], motherTicks3, motherTicks4, []],
  [[], [], hetTicks3, hetTicks4, []],
  [[], [], wtTicks3, wtTicks4, wtTicks5]
];
const rowLabels = ['r1', 'r2', 'r3', 'r4', 'r5'];
const rowColors = ['#c5c5c5', '#c9c9c9', '#b7b7b7', '#b7b7b7', '#b7b7b7'];

function coverageChart(canvas, values) {
  return new Chart(canvas, {
    type: 'bar',
    data: {
      datasets: [{
        data: values.map((v, i) => ({ x: covStart + (i + 0.5) * covBin, y: v })),
        backgroundColor: '#a2a2a2', borderWidth: 0, barPercentage: 1, categoryPercentage: 1
      }]
    },
    options: {
      layout: { padding: 0 },
      scales: { x: { type: 'linear', min: viewStart, max: viewEnd, offset: false, display: false },
                y: { min: 0, max: 100, display: false } }
    }
  });
}
function readsChart(canvas, bands, ticks) {
  const datasets = [];
  rowLabels.forEach((row, r) => {
    const segs = (bands[r] || []).concat((ticks[r] || []).map(p => [p, p + 0.035]));
    datasets.push({
      data: segs.map(([s, e]) => ({ x: [s, e], y: row })),
      backgroundColor: rowColors[r], borderWidth: 0, barThickness: 5, grouped: false
    });
  });
  return new Chart(canvas, {
    type: 'bar',
    data: { labels: rowLabels, datasets },
    options: {
      indexAxis: 'y',
      layout: { padding: 0 },
      scales: { x: { type: 'linear', min: viewStart, max: viewEnd, display: false },
                y: { type: 'category', labels: rowLabels, display: false } }
    }
  });
}

trackTop.forEach((T, k) => {
  const H = trackBottom[k] - T;
  addBox(3, T, 74, H, '#fbfbfb');
  addBox(80, T, 789, H, '#f7f6f6');
  addBox(81, trackSep[k], 786, 1, '#dadada', false);
  addText(trackNames[k], 5, T + 9, 5, { bold: true, color: '#333' });
  addText('[0 - 100]', 83, T + (k === 0 ? 2 : 3), 5, { bold: true, color: '#333' });
  const lines = trackLabels[k];
  const cy = trackTop[k] + 43;
  addBox(6, cy - 9, lines.length > 1 ? 62 : 48, lines.length > 1 ? 30 : 18, '#fff', false);
  lines.forEach((s, j) => addText(s, k < 2 ? 12 : 16, cy + j * 11, 11, { sx: 0.8, color: '#111' }));
  coverageChart(addCanvas(IGV_L, T + covOffset[k], IGV_W, 7), trackCov[k]);
  readsChart(addCanvas(IGV_L, T + rowsOffset[k], IGV_W, 35), trackBands[k], trackTicks[k]);
});

// gene track
addBox(3, 1209, 74, 34, '#fff');
addBox(80, 1209, 789, 34, '#fff');
addText('Gene', 5, 1218, 5, { bold: true, color: '#333' });

const geneLabelsPlugin = {
  id: 'geneLabels',
  afterDatasetsDraw(chart) {
    const { ctx, scales: { x }, chartArea: a } = chart;
    ctx.save();
    ctx.beginPath(); ctx.rect(a.left, 0, a.right - a.left, chart.height); ctx.clip();
    ctx.fillStyle = '#333';
    ctx.font = "bold 5px 'Liberation Sans', Arial, sans-serif";
    ctx.textAlign = 'center'; ctx.textBaseline = 'middle';
    geneNames.forEach((g, i) => ctx.fillText(g, x.getPixelForValue(geneLabelPos[i]), 14));
    ctx.restore();
  }
};
new Chart(addCanvas(IGV_L, 1210, IGV_W, 31), {
  type: 'bar',
  data: {
    labels: ['g'],
    datasets: [
      { data: geneIntrons.map(([s, e]) => ({ x: [s, e], y: 'g' })), backgroundColor: '#2a2ab4',
        borderWidth: 0, barThickness: 1, grouped: false },
      { data: geneExons.map(([s, e]) => ({ x: [s, e], y: 'g' })), backgroundColor: '#1c1cb8',
        borderWidth: 0, barThickness: 6, grouped: false }
    ]
  },
  options: {
    indexAxis: 'y',
    layout: { padding: { bottom: 21 } },
    scales: { x: { type: 'linear', min: viewStart, max: viewEnd, display: false },
              y: { type: 'category', labels: ['g'], display: false } }
  },
  plugins: [geneLabelsPlugin]
});
</script>
</body>
</html>
